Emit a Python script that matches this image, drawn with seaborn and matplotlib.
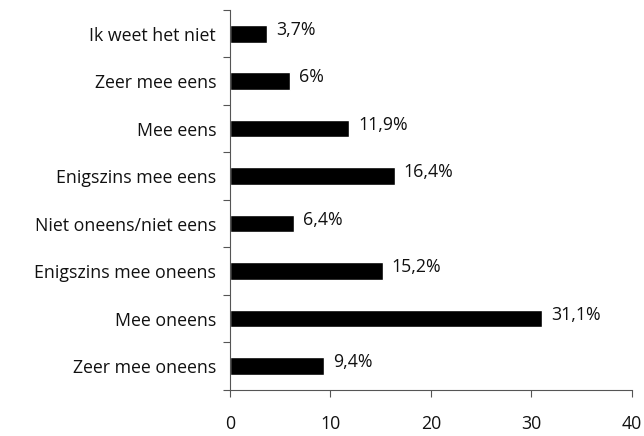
import pandas as pd
import seaborn as sns
import matplotlib.pyplot as plt
import numpy as np

categories = ['Ik weet het niet', 'Zeer mee eens', 'Mee eens', 'Enigszins mee eens',
              'Niet oneens/niet eens', 'Enigszins mee oneens', 'Mee oneens', 'Zeer mee oneens']
values = [3.7, 6.0, 11.9, 16.4, 6.4, 15.2, 31.1, 9.4]
value_labels = ['3,7%', '6%', '11,9%', '16,4%', '6,4%', '15,2%', '31,1%', '9,4%']

df = pd.DataFrame({'categorie': categories, 'procent': values})

sns.set_style('white')
plt.rcParams['font.family'] = ['Open Sans', 'DejaVu Sans']

fig = plt.figure(figsize=(6.44, 4.36), dpi=100)
ax = fig.add_axes([0.357, 0.106, 0.624, 0.871])

sns.barplot(data=df, x='procent', y='categorie', orient='h', color='black',
            width=0.37, ax=ax)

for i, (v, lab) in enumerate(zip(values, value_labels)):
    ax.text(v + 0.9, i - 0.08, lab, va='center', ha='left', fontsize=12.8, color='#111111')

ax.set_xlim(0, 40)
ax.set_ylim(len(categories) - 0.5, -0.5)
ax.set_xticks([0, 10, 20, 30, 40])
ax.set_xlabel('')
ax.set_ylabel('')

# ticks between categories on the y axis
ax.set_yticks(np.arange(len(categories) + 1) - 0.5, minor=True)
ax.tick_params(axis='y', which='major', length=0, labelsize=12.8, pad=10, labelcolor='#111111')
ax.tick_params(axis='y', which='minor', length=5, width=0.8, color='#555555', left=True)
ax.tick_params(axis='x', length=5, width=0.8, color='#555555', labelsize=12.8, pad=13,
               bottom=True, labelcolor='#111111')

for s in ['top', 'right']:
    ax.spines[s].set_visible(False)
for s in ['left', 'bottom']:
    ax.spines[s].set_color('#555555')
    ax.spines[s].set_linewidth(0.8)

fig.savefig('out.png', dpi=100)
